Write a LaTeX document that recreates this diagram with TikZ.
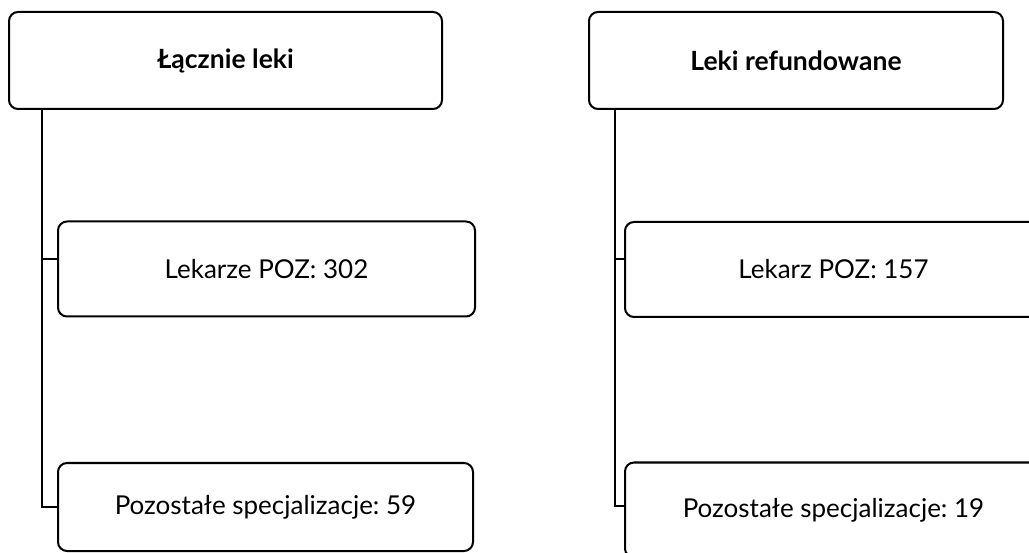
\documentclass[tikz,border=0pt]{standalone}
\usepackage{fontspec}
\setmainfont{Lato}
\frenchspacing
\begin{document}
\begin{tikzpicture}[x=1pt,y=-1pt,
  box/.style={draw=black,line width=2pt,rounded corners=9pt,inner sep=0pt,anchor=center,font=\fontsize{26}{31}\selectfont},
  titlebox/.style={box,font=\fontsize{26.5}{31}\selectfont\bfseries},
  conn/.style={draw=black,line width=2pt}]
\useasboundingbox (0,0) rectangle (1029,553);
\clip (0,0) rectangle (1029,553);
\fill[white] (0,0) rectangle (1029,553);
% left column
\node[titlebox,minimum width=433pt,minimum height=97pt] (L0) at (225.5,60.5) {Łącznie leki};
\node[box,minimum width=417pt,minimum height=95pt] (L1) at (266.5,269) {Lekarze POZ: 302};
\node[box,minimum width=415pt,minimum height=88pt] (L2) at (265.5,507) {Pozostałe specjalizacje: 59};
% right column
\node[titlebox,minimum width=414pt,minimum height=97pt] (R0) at (796,60.5) {Leki refundowane};
\node[box,minimum width=417pt,minimum height=95pt] (R1) at (833.5,269.5) {Lekarz POZ: 157};
\node[box,minimum width=417pt,minimum height=95pt] (R2) at (833.5,510) {Pozostałe specjalizacje: 19};
% connectors
\coordinate (lt) at ([xshift=34pt]L0.south west);
\coordinate (rt) at ([xshift=27pt]R0.south west);
\draw[conn] (lt) |- (L2.west);
\draw[conn] ([yshift=10pt]L1.west) -- ([yshift=10pt]L1.west -| lt);
\draw[conn] (rt) |- ([yshift=4pt]R2.west);
\draw[conn] ([yshift=10.5pt]R1.west) -- ([yshift=10.5pt]R1.west -| rt);
\end{tikzpicture}
\end{document}
